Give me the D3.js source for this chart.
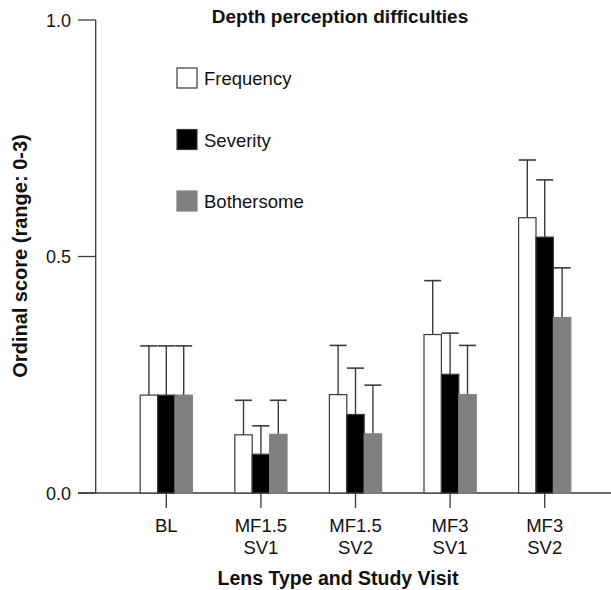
<!DOCTYPE html>
<html><head><meta charset="utf-8">
<script src="https://cdn.jsdelivr.net/npm/d3@7"></script>
<style>body{margin:0;background:#fff}svg{display:block}text{font-family:"Liberation Sans",Arial,sans-serif}</style>
</head><body>
<svg id="c" width="611" height="590"></svg>
<script>
const categories = [["BL"],["MF1.5","SV1"],["MF1.5","SV2"],["MF3","SV1"],["MF3","SV2"]];
const seriesNames = ["Frequency","Severity","Bothersome"];
const seriesColors = ["#ffffff","#000000","#808080"];
const frequency = [0.207, 0.123, 0.208, 0.335, 0.582];
const severity = [0.207, 0.082, 0.166, 0.251, 0.541];
const bothersome = [0.207, 0.124, 0.125, 0.208, 0.371];
const frequencyErr = [0.311, 0.196, 0.312, 0.449, 0.704];
const severityErr = [0.311, 0.142, 0.264, 0.338, 0.662];
const bothersomeErr = [0.311, 0.196, 0.228, 0.312, 0.476];
const yTicks = [0.0, 0.5, 1.0];

const values = [frequency, severity, bothersome];
const errs = [frequencyErr, severityErr, bothersomeErr];

const svg = d3.select("#c");
const y = d3.scaleLinear().domain([0,1]).range([493,20]);
const x = d3.scaleBand().domain(categories.map((d,i)=>i)).range([119,592]).paddingInner(0).paddingOuter(0);
const bw = 17.4;
const stroke = "#3a3a3a";
const txt = "#111";

// y axis
svg.append("line").attr("x1",95.7).attr("x2",95.7).attr("y1",y(1)).attr("y2",y(0)).attr("stroke",stroke).attr("stroke-width",1.3);
yTicks.forEach(t=>{
  svg.append("line").attr("x1",78).attr("x2",95.7).attr("y1",y(t)).attr("y2",y(t)).attr("stroke",stroke).attr("stroke-width",1.3);
  svg.append("text").attr("x",71).attr("y",y(t)+6.5).attr("text-anchor","end").attr("font-size",18).attr("fill",txt).text(d3.format(".1f")(t));
});
// x axis
svg.append("line").attr("x1",78).attr("x2",611).attr("y1",y(0)).attr("y2",y(0)).attr("stroke",stroke).attr("stroke-width",1.3);

categories.forEach((c,i)=>{
  const cx = x(i) + x.bandwidth()/2;
  svg.append("line").attr("x1",cx).attr("x2",cx).attr("y1",y(0)).attr("y2",y(0)+15).attr("stroke",stroke).attr("stroke-width",1.3);
  c.forEach((line,j)=>{
    svg.append("text").attr("x",cx).attr("y",532+j*22).attr("text-anchor","middle").attr("font-size",18.5).attr("fill",txt).text(line);
  });
  values.forEach((vals,s)=>{
    const bx = cx - 1.5*bw + s*bw;
    const bc = bx + bw/2;
    svg.append("line").attr("x1",bc).attr("x2",bc).attr("y1",y(errs[s][i])).attr("y2",y(vals[i])).attr("stroke",stroke).attr("stroke-width",1.4);
    svg.append("line").attr("x1",bc-8.5).attr("x2",bc+8.5).attr("y1",y(errs[s][i])).attr("y2",y(errs[s][i])).attr("stroke",stroke).attr("stroke-width",1.6);
  });
  values.forEach((vals,s)=>{
    const bx = cx - 1.5*bw + s*bw;
    svg.append("rect").attr("x",bx).attr("y",y(vals[i])).attr("width",bw).attr("height",y(0)-y(vals[i]))
      .attr("fill",seriesColors[s]).attr("stroke", s===2 ? "#808080" : stroke).attr("stroke-width",1.2);
  });
});

// title
svg.append("text").attr("x",340).attr("y",23).attr("text-anchor","middle").attr("font-size",19).attr("font-weight","bold").attr("fill",txt).text("Depth perception difficulties");

// legend
seriesNames.forEach((n,s)=>{
  const ly = 68 + s*61.5;
  svg.append("rect").attr("x",177).attr("y",ly).attr("width",20).attr("height",20).attr("fill",seriesColors[s]).attr("stroke", s===2 ? "#808080" : stroke).attr("stroke-width",1.2);
  svg.append("text").attr("x",204).attr("y",ly+17).attr("font-size",18.5).attr("fill",txt).text(n);
});

// axis labels
svg.append("text").attr("transform","translate(27,256) rotate(-90)").attr("text-anchor","middle").attr("font-size",20).attr("font-weight","bold").attr("fill",txt).text("Ordinal score (range: 0-3)");
svg.append("text").attr("x",338).attr("y",585).attr("text-anchor","middle").attr("font-size",19.5).attr("font-weight","bold").attr("fill",txt).text("Lens Type and Study Visit");
</script>
</body></html>
